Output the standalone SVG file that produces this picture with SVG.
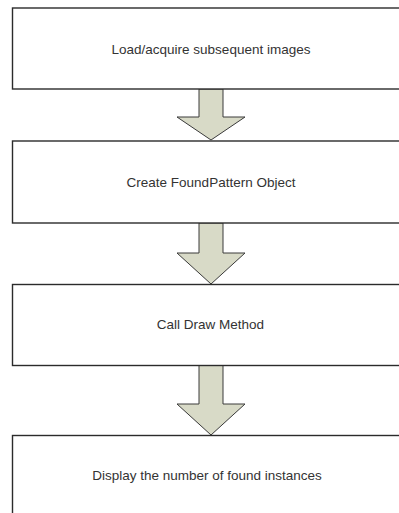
<svg xmlns="http://www.w3.org/2000/svg" width="399" height="513" viewBox="0 0 399 513">
<style>
.box{fill:#ffffff;stroke:#2b2b2b;stroke-width:1.4}
.lbl{font-family:"Liberation Sans",Arial,sans-serif;font-size:13.5px;fill:#333333;text-anchor:middle}
.arr{fill:#d8dac7;stroke:#3a3a3a;stroke-width:1}
</style>
<rect width="399" height="513" fill="#ffffff"/>
<g id="connectors">
<path class="arr" d="M199,89 H223 V117 H245 L211,140 L177,117 H199 Z"/>
<path class="arr" d="M199,223 H223 V253 H245 L211,284 L177,253 H199 Z"/>
<path class="arr" d="M199,365.5 H223 V404 H245 L211,435 L177,404 H199 Z"/>
</g>
<g id="n1">
<rect class="box" x="12.5" y="8" width="400" height="81"/>
<text class="lbl" x="211" y="54">Load/acquire subsequent images</text>
</g>
<g id="n2">
<rect class="box" x="12.5" y="141" width="400" height="82"/>
<text class="lbl" x="211" y="187">Create FoundPattern Object</text>
</g>
<g id="n3">
<rect class="box" x="12.5" y="284.5" width="400" height="81"/>
<text class="lbl" x="210.5" y="329">Call Draw Method</text>
</g>
<g id="n4">
<rect class="box" x="12.5" y="435.5" width="400" height="100"/>
<text class="lbl" x="207" y="480">Display the number of found instances</text>
</g>
</svg>
